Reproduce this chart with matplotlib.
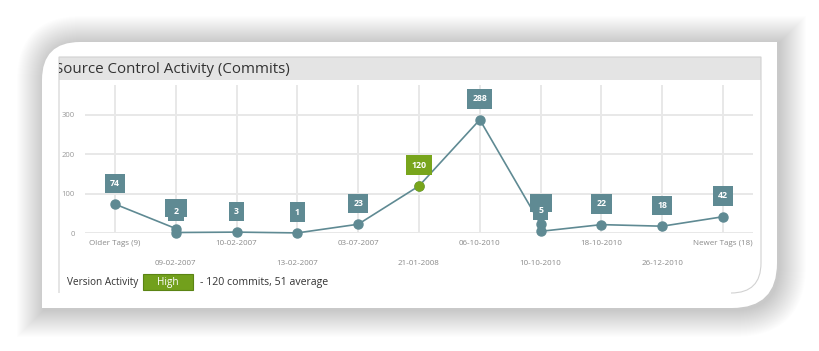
import numpy as np
import matplotlib.pyplot as plt
from matplotlib.path import Path
from matplotlib.patches import PathPatch, Rectangle
from matplotlib.transforms import ScaledTranslation

plt.rcParams["font.family"] = ["Open Sans", "DejaVu Sans"]

W, H, DPI = 819, 351, 100

tags = [
    "Older Tags (9)", "09-02-2007", "10-02-2007", "13-02-2007", "03-07-2007",
    "21-01-2008", "06-10-2010", "10-10-2010", "18-10-2010", "26-12-2010",
    "Newer Tags (18)",
]
commits = [74, 2, 3, 1, 23, 120, 288, 5, 22, 18, 42]
# leftover points drawn on top of two tags in the original
ghost = {1: 12, 7: 23}
highlight = 5
yticks = [0, 100, 200, 300]

LINE = "#5f8a93"
GREEN = "#78a51c"


def card_path(x0, y0, x1, y1, r1, r2):
    # rounded top-left and bottom-right corners, pixel coords (y down)
    verts = [
        (x0 + r1, y0), (x1, y0), (x1, y1 - r2), (x1, y1), (x1 - r2, y1),
        (x0, y1), (x0, y0 + r1), (x0, y0), (x0 + r1, y0), (x0 + r1, y0),
    ]
    codes = [
        Path.MOVETO, Path.LINETO, Path.LINETO, Path.CURVE3, Path.CURVE3,
        Path.LINETO, Path.LINETO, Path.CURVE3, Path.CURVE3, Path.CLOSEPOLY,
    ]
    return Path(verts, codes)


fig = plt.figure(figsize=(W / DPI, H / DPI), dpi=DPI)
bg = fig.add_axes([0, 0, 1, 1])
bg.set_xlim(0, W)
bg.set_ylim(H, 0)
bg.axis("off")

# soft shadow around the card
for k in range(1, 28):
    p = card_path(42 - k + 2, 42 - k + 1, 777 + k + 2, 308 + k + 2, 38 + k, 45 + k)
    bg.add_patch(PathPatch(p, fc="black", ec="none", alpha=0.008))
bg.add_patch(PathPatch(card_path(42, 42, 777, 308, 38, 45), fc="white", ec="none"))

# inner panel with title bar
bar = Rectangle((59, 57), 702, 23, fc="#e4e4e4", ec="none")
bg.add_patch(bar)
pv = [(59, 293), (59, 57), (761, 57), (761, 263), (761, 293), (731, 293)]
pc = [Path.MOVETO, Path.LINETO, Path.LINETO, Path.LINETO, Path.CURVE3, Path.CURVE3]
bg.add_patch(PathPatch(Path(pv, pc), fc="none", ec="#d2d2d2", lw=0.8))
t = bg.text(55, 69.5, "Source Control Activity (Commits)", fontsize=10.9,
            color="#333333", va="center", ha="left", clip_on=True)
t.set_clip_path(bar)

# footer
bg.text(67, 282, "Version Activity", fontsize=7.2, color="#333333", va="center")
bg.add_patch(Rectangle((143, 273.5), 50, 16.5, fc="#72a01c", ec="#5b8414", lw=0.8))
bg.text(168, 282, "High", fontsize=7.2, color="white", va="center", ha="center")
bg.text(200, 282, "- 120 commits, 51 average", fontsize=7.6, color="#333333",
        va="center")

# chart
ax = fig.add_axes([84.6 / W, 1 - 233.3 / H, 668.8 / W, (233.3 - 85) / H])
ax.patch.set_alpha(0)
x = np.arange(len(commits))

lx, ly = [], []
for i, v in enumerate(commits):
    if i in ghost:
        lx.append(i)
        ly.append(ghost[i])
    lx.append(i)
    ly.append(v)
ax.plot(lx, ly, color=LINE, lw=1.2, zorder=3, clip_on=False)
ax.plot(lx, ly, "o", color=LINE, ms=6.5, zorder=4, clip_on=False)
ax.plot(highlight, commits[highlight], "o", color=GREEN, ms=6.5, zorder=5,
        clip_on=False)


def box_label(xi, yi, text, color, z):
    ax.annotate(text, (xi, yi), xytext=(0, 15), textcoords="offset points",
                ha="center", va="center", fontsize=6.3, fontweight="bold",
                color="white", zorder=z, annotation_clip=False,
                bbox=dict(boxstyle="square,pad=0.6", fc=color, ec="none"))


# ghost labels: only their boxes peek out behind the real ones
for i, g in ghost.items():
    tr = fig.dpi_scale_trans + ScaledTranslation(i, g, ax.transData)
    ax.add_patch(Rectangle((-0.11, 0.12), 0.22, 0.18, transform=tr, fc=LINE,
                           ec="none", zorder=6, clip_on=False))
for i, v in enumerate(commits):
    box_label(i, v, str(v), GREEN if i == highlight else LINE, 7)

ax.set_xlim(-0.5, len(commits) - 0.5)
ax.set_ylim(0, 376)
ax.set_xticks(x)
ax.set_xticklabels([])
ax.set_yticks(yticks)
ax.set_yticklabels([str(v) for v in yticks], fontsize=5.5, color="#999999")
ax.tick_params(length=0)
ax.tick_params(axis="y", pad=7)
ax.grid(color="#e8e8e8", lw=1.4, zorder=0)
ax.set_axisbelow(True)
for s in ax.spines.values():
    s.set_visible(False)

for i, lab in enumerate(tags):
    ax.annotate(lab, (i, 0), xycoords=("data", "axes fraction"),
                xytext=(0, -19.5 if i % 2 else -4.5), textcoords="offset points",
                ha="center", va="top", fontsize=5.8, color="#8a8a8a",
                annotation_clip=False)

fig.savefig("out.png", dpi=DPI)
